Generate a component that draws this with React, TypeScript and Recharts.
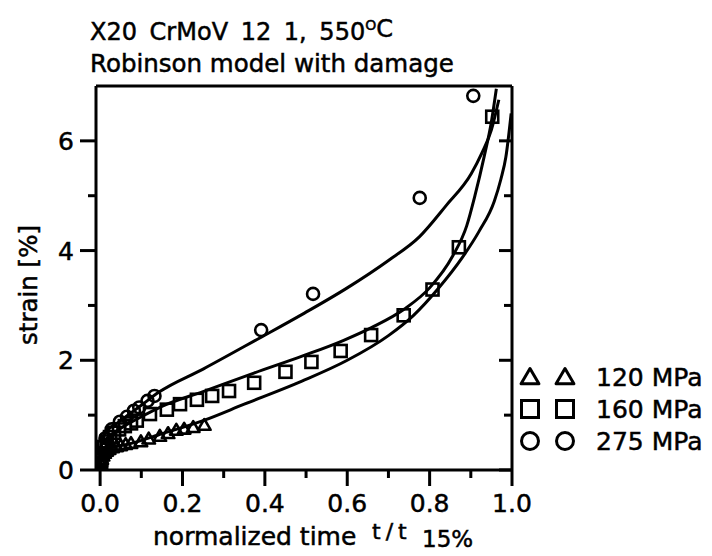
import { ComposedChart, Line, Scatter, XAxis, YAxis } from "recharts";

// measured points, [t/t15%, strain %]
const tri120: [number, number][] = [
  [0.0, 0.05], [0.002, 0.12], [0.004, 0.2], [0.007, 0.26], [0.011, 0.31], [0.016, 0.35],
  [0.022, 0.38], [0.03, 0.41], [0.04, 0.43], [0.05, 0.45], [0.062, 0.47], [0.075, 0.49],
  [0.099, 0.52], [0.118, 0.57], [0.145, 0.62], [0.165, 0.67], [0.185, 0.73], [0.204, 0.75],
  [0.226, 0.78], [0.253, 0.82],
];
const sq160: [number, number][] = [
  [0.0, 0.08], [0.003, 0.18], [0.006, 0.3], [0.01, 0.42], [0.016, 0.52], [0.024, 0.6],
  [0.034, 0.68], [0.046, 0.74], [0.06, 0.8], [0.075, 0.85], [0.089, 0.9], [0.121, 1.02],
  [0.162, 1.1], [0.194, 1.2], [0.235, 1.28], [0.272, 1.35], [0.313, 1.44], [0.374, 1.59],
  [0.45, 1.79], [0.513, 1.97], [0.584, 2.17], [0.658, 2.46], [0.737, 2.82], [0.807, 3.29],
  [0.871, 4.06], [0.952, 6.44],
];
const circ275: [number, number][] = [
  [0.0, 0.12], [0.003, 0.3], [0.007, 0.45], [0.013, 0.58], [0.028, 0.74], [0.048, 0.88],
  [0.065, 0.97], [0.082, 1.08], [0.095, 1.14], [0.115, 1.26], [0.132, 1.35], [0.391, 2.55],
  [0.517, 3.21], [0.776, 4.96], [0.906, 6.82],
];

// model curves
const model120: [number, number][] = [
  [0, 0], [0.001, 0.15], [0.004, 0.3], [0.015, 0.38], [0.04, 0.43], [0.067, 0.47], [0.15, 0.66],
  [0.25, 0.9], [0.35, 1.2], [0.49, 1.62], [0.6, 2.0], [0.7, 2.45], [0.761, 2.82], [0.82, 3.3],
  [0.88, 3.88], [0.92, 4.35], [0.957, 4.9], [0.973, 5.3], [0.985, 5.7], [0.998, 6.5],
];
const model160: [number, number][] = [
  [0, 0], [0.001, 0.3], [0.005, 0.48], [0.02, 0.6], [0.05, 0.76], [0.1, 0.97], [0.15, 1.16],
  [0.25, 1.43], [0.375, 1.77], [0.492, 2.08], [0.59, 2.36], [0.66, 2.6], [0.738, 2.93], [0.8, 3.32],
  [0.856, 3.9], [0.89, 4.45], [0.91, 5.0], [0.932, 5.7], [0.95, 6.35], [0.962, 6.95],
];
const model275: [number, number][] = [
  [0, 0], [0.001, 0.3], [0.004, 0.52], [0.01, 0.64], [0.05, 0.9], [0.1, 1.18], [0.143, 1.42],
  [0.25, 1.84], [0.381, 2.38], [0.496, 2.86], [0.6, 3.32], [0.7, 3.82], [0.775, 4.25],
  [0.84, 4.82], [0.901, 5.4], [0.927, 5.78], [0.95, 6.2], [0.968, 6.75],
];

const xTicks = [0, 0.1, 0.2, 0.3, 0.4, 0.5, 0.6, 0.7, 0.8, 0.9, 1.0];
const yTicks = [0, 1, 2, 3, 4, 5, 6];
const legendItems = [
  { label: "120 MPa", marker: "tri" },
  { label: "160 MPa", marker: "sq" },
  { label: "275 MPa", marker: "circ" },
];

const FONT = "'DejaVu Sans', sans-serif";
const INK = { fill: "#000", stroke: "#000", strokeWidth: 0.5 };
const toPts = (arr: [number, number][]) => arr.map(([t, s]) => ({ t, s }));

function Marker({ kind, cx, cy, size, sw = 2.6 }: { kind: string; cx: number; cy: number; size: number; sw?: number }) {
  const h = size / 2;
  const common = { fill: "none", stroke: "#000", strokeWidth: sw };
  if (kind === "tri") {
    return (
      <polygon
        points={`${cx},${cy - h} ${cx + h * 1.05},${cy + h * 0.8} ${cx - h * 1.05},${cy + h * 0.8}`}
        {...common}
        strokeLinejoin="round"
      />
    );
  }
  if (kind === "sq") {
    return <rect x={cx - h} y={cy - h} width={size} height={size} {...common} />;
  }
  return <circle cx={cx} cy={cy} r={h} {...common} />;
}

const shapeFor = (kind: string) => (p: any) => <Marker kind={kind} cx={p.cx} cy={p.cy} size={12} />;

const xMajor = (v: number) => Math.round(v * 10) % 2 === 0;
const yMajor = (v: number) => Math.round(v) % 2 === 0;

function BottomTick({ x, y, payload }: any) {
  const major = xMajor(payload.value);
  return (
    <g>
      <line x1={x} x2={x} y1={y} y2={y + (major ? 16 : 8)} stroke="#000" strokeWidth={3} />
      {major && (
        <text x={x} y={y + 42} textAnchor="middle" fontFamily={FONT} fontSize={25} {...INK}>
          {payload.value.toFixed(1)}
        </text>
      )}
    </g>
  );
}

function TopTick({ x, y, payload }: any) {
  const major = xMajor(payload.value);
  return <line x1={x} x2={x} y1={y} y2={y + (major ? 15 : 7)} stroke="#000" strokeWidth={3} />;
}

function LeftTick({ x, y, payload }: any) {
  const major = yMajor(payload.value);
  return (
    <g>
      <line x1={x} x2={x - (major ? 16 : 8)} y1={y} y2={y} stroke="#000" strokeWidth={3} />
      {major && (
        <text x={x - 22} y={y + 9} textAnchor="end" fontFamily={FONT} fontSize={25} {...INK}>
          {payload.value}
        </text>
      )}
    </g>
  );
}

function RightTick({ x, y, payload }: any) {
  const major = yMajor(payload.value);
  return <line x1={x} x2={x - (major ? 13 : 8)} y1={y} y2={y} stroke="#000" strokeWidth={3} />;
}

const axisLine = { stroke: "#000", strokeWidth: 3 };

export default function App() {
  return (
    <ComposedChart
      width={704}
      height={548}
      margin={{ top: 58, right: 180, bottom: 16, left: 28 }}
      style={{ background: "#fff" }}
    >
      <XAxis
        xAxisId="b"
        dataKey="t"
        type="number"
        domain={[-0.01, 1]}
        ticks={xTicks}
        interval={0}
        allowDataOverflow
        height={70}
        tickSize={0}
        tickMargin={0}
        tickLine={false}
        axisLine={axisLine}
        tick={BottomTick}
      />
      <XAxis
        xAxisId="t"
        orientation="top"
        type="number"
        domain={[-0.01, 1]}
        ticks={xTicks.slice(1, -1)}
        interval={0}
        allowDataOverflow
        height={20}
        tickSize={0}
        tickMargin={0}
        tickLine={false}
        axisLine={axisLine}
        tick={TopTick}
      />
      <YAxis
        yAxisId="l"
        dataKey="s"
        type="number"
        domain={[0, 7]}
        ticks={yTicks}
        interval={0}
        allowDataOverflow
        width={60}
        tickSize={0}
        tickMargin={0}
        tickLine={false}
        axisLine={axisLine}
        tick={LeftTick}
      />
      <YAxis
        yAxisId="r"
        orientation="right"
        type="number"
        domain={[0, 7]}
        ticks={yTicks}
        interval={0}
        allowDataOverflow
        width={20}
        tickSize={0}
        tickMargin={0}
        tickLine={false}
        axisLine={axisLine}
        tick={RightTick}
      />

      <Line xAxisId="b" yAxisId="l" data={toPts(model120)} dataKey="s" type="monotone" stroke="#000" strokeWidth={3} dot={false} isAnimationActive={false} />
      <Line xAxisId="b" yAxisId="l" data={toPts(model160)} dataKey="s" type="monotone" stroke="#000" strokeWidth={3} dot={false} isAnimationActive={false} />
      <Line xAxisId="b" yAxisId="l" data={toPts(model275)} dataKey="s" type="monotone" stroke="#000" strokeWidth={3} dot={false} isAnimationActive={false} />

      <Scatter xAxisId="b" yAxisId="l" data={toPts(tri120)} dataKey="s" shape={shapeFor("tri")} isAnimationActive={false} />
      <Scatter xAxisId="b" yAxisId="l" data={toPts(sq160)} dataKey="s" shape={shapeFor("sq")} isAnimationActive={false} />
      <Scatter xAxisId="b" yAxisId="l" data={toPts(circ275)} dataKey="s" shape={shapeFor("circ")} isAnimationActive={false} />

      <text x={82} y={32} fontFamily={FONT} fontSize={24} {...INK} wordSpacing={5}>
        X20 CrMoV 12 1, 550
        <tspan fontSize={14} dy={-10}>O</tspan>
        <tspan fontSize={24} dy={7}>C</tspan>
      </text>
      <text x={82} y={64} fontFamily={FONT} fontSize={24.5} {...INK}>
        Robinson model with damage
      </text>

      <text x={145} y={537} fontFamily={FONT} fontSize={25} {...INK}>
        normalized time
      </text>
      <text x={364} y={531} fontFamily={FONT} fontSize={22} {...INK} letterSpacing={5}>
        t/t
      </text>
      <text x={414} y={539} fontFamily={FONT} fontSize={23} {...INK}>
        15%
      </text>
      <text
        x={20}
        y={277}
        transform="rotate(-90 20 277)"
        textAnchor="middle"
        dominantBaseline="central"
        fontFamily={FONT}
        fontSize={24.5}
        {...INK}
      >
        strain [%]
      </text>

      {legendItems.map((item, i) => {
        const cy = 369 + i * 32;
        return (
          <g key={item.label}>
            <Marker kind={item.marker} cx={522} cy={cy} size={17} sw={3} />
            <Marker kind={item.marker} cx={557} cy={cy} size={17} sw={3} />
            <text x={588} y={cy + 9} fontFamily={FONT} fontSize={25} {...INK}>
              {item.label}
            </text>
          </g>
        );
      })}
    </ComposedChart>
  );
}
